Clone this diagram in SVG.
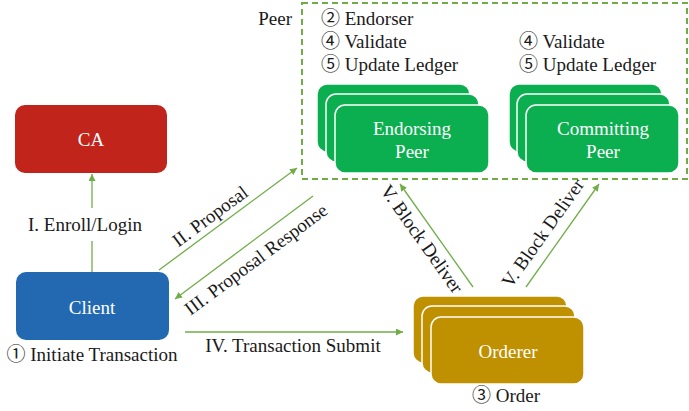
<svg xmlns="http://www.w3.org/2000/svg" width="689" height="411" viewBox="0 0 689 411">
<defs>
<style>
text{font-family:"Liberation Serif","Times New Roman","Noto Sans CJK SC",serif;font-size:19px;fill:#1a1a1a}
.w{fill:#fff;text-anchor:middle}
.m{text-anchor:middle}
.ln{stroke:#70AD47;stroke-width:1.3;fill:none}
.stk{stroke:#fff;stroke-width:1.5}
.g{fill:#0BAF50}
.o{fill:#BF9000}
</style>
<marker id="ah" viewBox="0 0 10 10" refX="10" refY="5" markerWidth="7" markerHeight="7" orient="auto" markerUnits="userSpaceOnUse">
<path d="M0,0 L10,5 L0,10 z" fill="#70AD47"/>
</marker>
</defs>
<rect width="689" height="411" fill="#fff"/>

<g id="peer-group">
<rect x="302" y="3" width="385" height="176" fill="none" stroke="#70AD47" stroke-width="2" stroke-dasharray="6,4"/>
<text x="292" y="25" text-anchor="end">Peer</text>
<text x="321" y="25">② Endorser</text>
<text x="321" y="48">④ Validate</text>
<text x="321" y="71">⑤ Update Ledger</text>
<text x="519" y="48">④ Validate</text>
<text x="519" y="71">⑤ Update Ledger</text>
</g>

<g id="ca">
<rect x="15" y="105" width="152" height="68" rx="10" fill="#C0241A"/>
<text class="w" x="91" y="146">CA</text>
</g>

<g id="client">
<rect x="16" y="272" width="153" height="68" rx="10" fill="#2369B1"/>
<text class="w" x="92" y="314">Client</text>
<text class="m" x="92" y="361">① Initiate Transaction</text>
</g>

<g id="endorsing-peer">
<rect class="g stk" x="317" y="84" width="153" height="68" rx="10"/>
<rect class="g stk" x="326" y="94" width="153" height="68" rx="10"/>
<rect class="g stk" x="335" y="105" width="154" height="68" rx="10"/>
<text class="w" x="412" y="135">Endorsing</text>
<text class="w" x="412" y="158">Peer</text>
</g>

<g id="committing-peer">
<rect class="g stk" x="509" y="84" width="153" height="68" rx="10"/>
<rect class="g stk" x="517" y="94" width="153" height="68" rx="10"/>
<rect class="g stk" x="526" y="105" width="153" height="68" rx="10"/>
<text class="w" x="603" y="135">Committing</text>
<text class="w" x="603" y="158">Peer</text>
</g>

<g id="orderer">
<rect class="o stk" x="413" y="296" width="154" height="67" rx="10"/>
<rect class="o stk" x="422" y="306" width="153" height="67" rx="10"/>
<rect class="o stk" x="431" y="317" width="153" height="67" rx="10"/>
<text class="w" x="508" y="358">Orderer</text>
<text class="m" x="506" y="402">③ Order</text>
</g>

<g id="connectors">
<line class="ln" x1="92" y1="272" x2="92" y2="241"/>
<line class="ln" x1="92" y1="208" x2="92" y2="174" marker-end="url(#ah)"/>
<text class="m" x="85" y="231">I. Enroll/Login</text>

<line class="ln" x1="159" y1="270" x2="297" y2="168" marker-end="url(#ah)"/>
<text class="m" transform="translate(218,227) rotate(-36.5)" y="-7">II. Proposal</text>

<line class="ln" x1="313" y1="196" x2="175" y2="299" marker-end="url(#ah)"/>
<text class="m" transform="translate(246,246) rotate(-36.7)" y="23">III. Proposal Response</text>

<line class="ln" x1="185" y1="332" x2="403" y2="332" marker-end="url(#ah)"/>
<text class="m" x="293" y="352">IV. Transaction Submit</text>

<line class="ln" x1="473" y1="287" x2="400" y2="184" marker-end="url(#ah)"/>
<text class="m" transform="translate(433,231) rotate(54.7)" y="20">V. Block Deliver</text>

<line class="ln" x1="526" y1="287" x2="599" y2="184" marker-end="url(#ah)"/>
<text class="m" transform="translate(557,243) rotate(-54.7)" y="-11">V. Block Deliver</text>
</g>
</svg>
